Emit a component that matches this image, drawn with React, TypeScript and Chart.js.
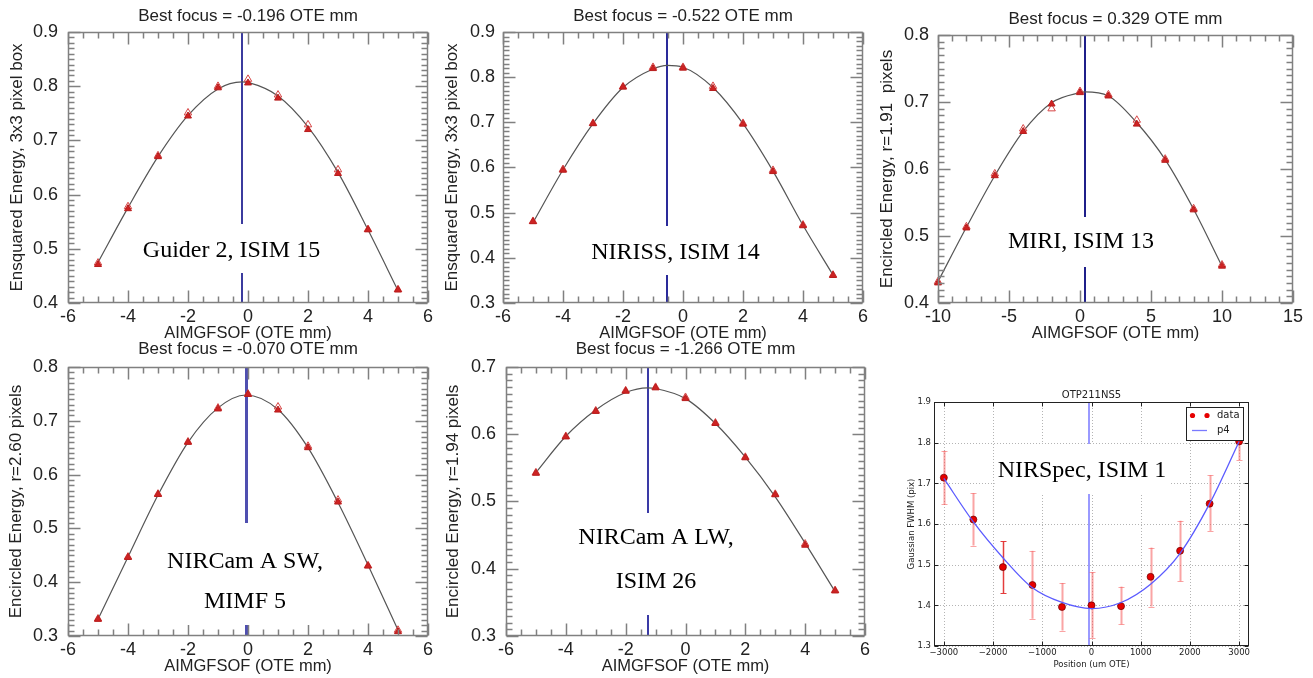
import React, { useEffect, useRef } from 'react';
import { Chart, registerables } from 'chart.js';

Chart.register(...registerables);

const SANS = '"Liberation Sans", Arial, sans-serif';
const SERIF = '"Liberation Serif", "Times New Roman", serif';
const MPL = '"DejaVu Sans", sans-serif';
const TXT = '#222';

// ---------------- data ----------------
const focusX = [-5, -4, -3, -2, -1, 0, 1, 2, 3, 4, 5];
const miriX = [-10, -8, -6, -4, -2, 0, 2, 4, 6, 8, 10];

const focusXTicks = [-6, -4, -2, 0, 2, 4, 6];
const miriXTicks = [-10, -5, 0, 5, 10, 15];
const yTicks4to9 = [0.4, 0.5, 0.6, 0.7, 0.8, 0.9];
const yTicks3to9 = [0.3, 0.4, 0.5, 0.6, 0.7, 0.8, 0.9];
const yTicks4to8 = [0.4, 0.5, 0.6, 0.7, 0.8];
const yTicks3to8 = [0.3, 0.4, 0.5, 0.6, 0.7, 0.8];
const yTicks3to7 = [0.3, 0.4, 0.5, 0.6, 0.7];

// Guider 2, ISIM 15
const guiderFilled = [0.471, 0.574, 0.670, 0.745, 0.797, 0.806, 0.778, 0.720, 0.639, 0.535, 0.424];
const guiderOpen = [0.474, 0.578, 0.672, 0.751, 0.800, 0.813, 0.784, 0.729, 0.646, 0.536, 0.425];
const guiderFitX = [-5, -4, -3, -2, -1, -0.196, 0, 1, 2, 3, 4, 5];
const guiderFitY = [0.475, 0.576, 0.670, 0.746, 0.795, 0.808, 0.807, 0.782, 0.725, 0.641, 0.535, 0.423];
const guiderBest = -0.196;

// NIRISS, ISIM 14
const nirissFilled = [0.480, 0.594, 0.697, 0.778, 0.819, 0.820, 0.775, 0.696, 0.591, 0.471, 0.361];
const nirissOpen = [0.481, 0.596, 0.698, 0.779, 0.822, 0.822, 0.780, 0.698, 0.594, 0.473, 0.362];
const nirissFitX = [-5, -4, -3, -2, -1, -0.522, 0, 1, 2, 3, 4, 5];
const nirissFitY = [0.478, 0.595, 0.697, 0.777, 0.818, 0.826, 0.822, 0.777, 0.697, 0.592, 0.472, 0.362];
const nirissBest = -0.522;

// MIRI, ISIM 13
const miriFilled = [0.430, 0.512, 0.590, 0.656, 0.697, 0.714, 0.709, 0.667, 0.613, 0.539, 0.455];
const miriOpen = [0.432, 0.514, 0.593, 0.660, 0.690, 0.716, 0.711, 0.673, 0.615, 0.541, 0.457];
const miriFitX = [-10, -8, -6, -4, -2, 0, 0.329, 2, 4, 6, 8, 10];
const miriFitY = [0.432, 0.513, 0.590, 0.656, 0.699, 0.714, 0.715, 0.709, 0.669, 0.614, 0.540, 0.455];
const miriBest = 0.329;

// NIRCam A SW, MIMF 5
const swFilled = [0.331, 0.446, 0.563, 0.660, 0.722, 0.749, 0.720, 0.650, 0.549, 0.430, 0.308];
const swOpen = [0.332, 0.447, 0.564, 0.661, 0.724, 0.750, 0.726, 0.653, 0.553, 0.431, 0.311];
const swFitX = [-5, -4, -3, -2, -1, -0.07, 1, 2, 3, 4, 5];
const swFitY = [0.331, 0.447, 0.562, 0.660, 0.724, 0.748, 0.721, 0.650, 0.548, 0.432, 0.311];
const swBest = -0.07;

// NIRCam A LW, ISIM 26
const lwFilled = [0.542, 0.596, 0.634, 0.664, 0.669, 0.653, 0.616, 0.565, 0.510, 0.435, 0.367];
const lwOpen = [0.543, 0.597, 0.635, 0.665, 0.670, 0.655, 0.617, 0.566, 0.511, 0.437, 0.368];
const lwFitX = [-5, -4, -3, -2, -1.266, -1, 0, 1, 2, 3, 4, 5];
const lwFitY = [0.543, 0.597, 0.636, 0.662, 0.669, 0.668, 0.653, 0.616, 0.566, 0.507, 0.438, 0.366];
const lwBest = -1.266;

// NIRSpec, ISIM 1
const nsX = [-3000, -2400, -1800, -1200, -600, 0, 600, 1200, 1800, 2400, 3000];
const nsY = [1.714, 1.611, 1.494, 1.450, 1.396, 1.400, 1.398, 1.470, 1.534, 1.650, 1.803];
const nsErrLow = [1.648, 1.547, 1.430, 1.367, 1.338, 1.320, 1.353, 1.397, 1.459, 1.583, 1.757];
const nsErrHigh = [1.780, 1.676, 1.557, 1.534, 1.455, 1.482, 1.446, 1.542, 1.608, 1.720, 1.850];
const nsFit = [1.712, 1.605, 1.517, 1.443, 1.407, 1.392, 1.407, 1.452, 1.528, 1.650, 1.803];
const nsBest = -60;
const nsXTicks = [-3000, -2000, -1000, 0, 1000, 2000, 3000];
const nsYTicks = [1.3, 1.4, 1.5, 1.6, 1.7, 1.8, 1.9];

// ---------------- panel layout ----------------
type Label = { text: string; cx: number; base: number };
type IdlCfg = {
  id: string;
  box: [number, number, number, number];
  yAxisW: number; xAxisH: number; padRight: number;
  title: string; titlePad: [number, number];
  yTitle: string; yTitlePad: number; xTitlePad: number; yTickPad: number; xTickPad: number;
  xRange: [number, number]; xTicks: number[]; xMinor: number;
  yRange: [number, number]; yTicks: number[]; yMinor: number;
  px: number[]; filled: number[]; open: number[]; fitX: number[]; fitY: number[];
  best: number; lineColor: string; lineW: number;
  labels: Label[]; gap: [number, number];
};

const panels: IdlCfg[] = [
  {
    id: 'guider', box: [0, 0, 440, 345], yAxisW: 68, xAxisH: 42, padRight: 12,
    title: 'Best focus = -0.196 OTE mm', titlePad: [5.8, 5.8],
    yTitle: 'Ensquared Energy, 3x3 pixel box', yTitlePad: 6.8, xTitlePad: 2.1, yTickPad: 10, xTickPad: 3,
    xRange: [-6, 6], xTicks: focusXTicks, xMinor: 4, yRange: [0.4, 0.9], yTicks: yTicks4to9, yMinor: 10,
    px: focusX, filled: guiderFilled, open: guiderOpen, fitX: guiderFitX, fitY: guiderFitY,
    best: guiderBest, lineColor: '#3b3b9e', lineW: 2,
    labels: [{ text: 'Guider 2, ISIM 15', cx: 231.5, base: 257 }], gap: [224, 273],
  },
  {
    id: 'niriss', box: [440, 0, 440, 345], yAxisW: 63, xAxisH: 42, padRight: 17,
    title: 'Best focus = -0.522 OTE mm', titlePad: [5.8, 5.8],
    yTitle: 'Ensquared Energy, 3x3 pixel box', yTitlePad: 1.8, xTitlePad: 2.1, yTickPad: 8, xTickPad: 3,
    xRange: [-6, 6], xTicks: focusXTicks, xMinor: 4, yRange: [0.3, 0.9], yTicks: yTicks3to9, yMinor: 10,
    px: focusX, filled: nirissFilled, open: nirissOpen, fitX: nirissFitX, fitY: nirissFitY,
    best: nirissBest, lineColor: '#2a2a9a', lineW: 2,
    labels: [{ text: 'NIRISS, ISIM 14', cx: 675.5, base: 259 }], gap: [226, 275],
  },
  {
    id: 'miri', box: [870, 0, 443, 345], yAxisW: 68, xAxisH: 42, padRight: 20,
    title: 'Best focus = 0.329 OTE mm', titlePad: [8.8, 5.8],
    yTitle: 'Encircled Energy, r=1.91  pixels', yTitlePad: 7.3, xTitlePad: 2.1, yTickPad: 9, xTickPad: 3,
    xRange: [-10, 15], xTicks: miriXTicks, xMinor: 5, yRange: [0.4, 0.8], yTicks: yTicks4to8, yMinor: 10,
    px: miriX, filled: miriFilled, open: miriOpen, fitX: miriFitX, fitY: miriFitY,
    best: miriBest, lineColor: '#1f1f8a', lineW: 2,
    labels: [{ text: 'MIRI, ISIM 13', cx: 1081, base: 248 }], gap: [217, 267],
  },
  {
    id: 'sw', box: [0, 330, 440, 348], yAxisW: 68, xAxisH: 42, padRight: 12,
    title: 'Best focus = -0.070 OTE mm', titlePad: [8.8, 7.8],
    yTitle: 'Encircled Energy, r=2.60 pixels', yTitlePad: 5.8, xTitlePad: 2.1, yTickPad: 10, xTickPad: 3,
    xRange: [-6, 6], xTicks: focusXTicks, xMinor: 4, yRange: [0.3, 0.8], yTicks: yTicks3to8, yMinor: 10,
    px: focusX, filled: swFilled, open: swOpen, fitX: swFitX, fitY: swFitY,
    best: swBest, lineColor: '#4f4fb0', lineW: 3,
    labels: [
      { text: 'NIRCam A SW,', cx: 245, base: 568 },
      { text: 'MIMF 5', cx: 245, base: 608 },
    ], gap: [523, 625],
  },
  {
    id: 'lw', box: [440, 330, 440, 348], yAxisW: 66, xAxisH: 42, padRight: 15,
    title: 'Best focus = -1.266 OTE mm', titlePad: [8.8, 7.8],
    yTitle: 'Encircled Energy, r=1.94 pixels', yTitlePad: 2.8, xTitlePad: 2.1, yTickPad: 10, xTickPad: 3,
    xRange: [-6, 6], xTicks: focusXTicks, xMinor: 4, yRange: [0.3, 0.7], yTicks: yTicks3to7, yMinor: 10,
    px: focusX, filled: lwFilled, open: lwOpen, fitX: lwFitX, fitY: lwFitY,
    best: lwBest, lineColor: '#3a3aa6', lineW: 2,
    labels: [
      { text: 'NIRCam A LW,', cx: 656, base: 544 },
      { text: 'ISIM 26', cx: 656, base: 588 },
    ], gap: [513, 615],
  },
];

function drawLabelBox(ctx: CanvasRenderingContext2D, labels: Label[], gap: [number, number], ox: number, oy: number) {
  ctx.save();
  ctx.font = `24px ${SERIF}`;
  const maxW = Math.max(...labels.map((l) => ctx.measureText(l.text).width));
  const cx = labels[0].cx - ox;
  ctx.fillStyle = '#ffffff';
  ctx.fillRect(cx - maxW / 2 - 3, gap[0] - oy, maxW + 6, gap[1] - gap[0]);
  ctx.fillStyle = '#000';
  ctx.textAlign = 'center';
  ctx.textBaseline = 'alphabetic';
  labels.forEach((l) => ctx.fillText(l.text, l.cx - ox, l.base - oy));
  ctx.restore();
}

function IdlChart({ c }: { c: IdlCfg }) {
  const ref = useRef<HTMLCanvasElement>(null);
  useEffect(() => {
    const [bl, bt] = c.box;
    const decor = {
      id: 'decor_' + c.id,
      beforeDatasetsDraw(chart: any) {
        const { ctx, chartArea: a, scales } = chart;
        const p = Math.round(scales.x.getPixelForValue(c.best)) + (c.lineW % 2 ? 0.5 : 0);
        ctx.save();
        ctx.strokeStyle = c.lineColor;
        ctx.lineWidth = c.lineW;
        ctx.beginPath();
        ctx.moveTo(p, a.top);
        ctx.lineTo(p, a.bottom);
        ctx.stroke();
        ctx.restore();
      },
      afterDatasetsDraw(chart: any) {
        const { ctx, chartArea: a, scales } = chart;
        const xs = scales.x, ys = scales.y;
        ctx.save();
        ctx.strokeStyle = '#808080';
        ctx.lineWidth = 1.5;
        const L = Math.round(a.left) + 0.5, R = Math.round(a.right) - 0.5;
        const T = Math.round(a.top) + 0.5, B = Math.round(a.bottom) - 0.5;
        ctx.strokeRect(L, T, R - L, B - T);
        const xStep = (c.xTicks[1] - c.xTicks[0]) / c.xMinor;
        const nx = Math.round((c.xRange[1] - c.xRange[0]) / xStep);
        for (let i = 0; i <= nx; i++) {
          const v = c.xRange[0] + i * xStep;
          const len = i % c.xMinor === 0 ? 12 : 6;
          const p = Math.round(xs.getPixelForValue(v)) + 0.5;
          ctx.beginPath();
          ctx.moveTo(p, B); ctx.lineTo(p, B - len);
          ctx.moveTo(p, T); ctx.lineTo(p, T + len);
          ctx.stroke();
        }
        const yStep = (c.yTicks[1] - c.yTicks[0]) / c.yMinor;
        const ny = Math.round((c.yRange[1] - c.yRange[0]) / yStep);
        for (let i = 0; i <= ny; i++) {
          const v = c.yRange[0] + i * yStep;
          const len = i % c.yMinor === 0 ? 12 : 6;
          const p = Math.round(ys.getPixelForValue(v)) + 0.5;
          ctx.beginPath();
          ctx.moveTo(L, p); ctx.lineTo(L + len, p);
          ctx.moveTo(R, p); ctx.lineTo(R - len, p);
          ctx.stroke();
        }
        ctx.restore();
        drawLabelBox(ctx, c.labels, c.gap, bl, bt);
      },
    };
    const chart = new Chart(ref.current as HTMLCanvasElement, {
      type: 'scatter',
      data: {
        datasets: [
          {
            label: 'filled',
            data: c.px.map((x, i) => ({ x, y: c.filled[i] })),
            pointStyle: 'triangle', pointRadius: 4, backgroundColor: '#cf2222',
            borderColor: '#b81c1c', borderWidth: 1, showLine: false, clip: false,
          } as any,
          {
            label: 'open',
            data: c.px.map((x, i) => ({ x, y: c.open[i] })),
            pointStyle: 'triangle', pointRadius: 4.3, backgroundColor: 'rgba(0,0,0,0)',
            borderColor: '#d64545', borderWidth: 1, showLine: false, clip: false,
          } as any,
          {
            label: 'fit',
            data: c.fitX.map((x, i) => ({ x, y: c.fitY[i] })),
            showLine: true, pointRadius: 0, borderColor: '#555', borderWidth: 1.2,
            cubicInterpolationMode: 'monotone', fill: false,
          } as any,
        ],
      },
      options: {
        responsive: false, animation: false, events: [], devicePixelRatio: 1,
        layout: { padding: { left: 0, top: 0, right: c.padRight, bottom: 0 } },
        plugins: {
          legend: { display: false },
          tooltip: { enabled: false },
          title: {
            display: true, text: c.title, fullSize: false, color: TXT,
            font: { family: SANS, size: 17, weight: 'normal' },
            padding: { top: c.titlePad[0], bottom: c.titlePad[1] },
          },
        },
        scales: {
          x: {
            type: 'linear', min: c.xRange[0], max: c.xRange[1],
            afterBuildTicks: (s: any) => { s.ticks = c.xTicks.map((v) => ({ value: v })); },
            afterFit: (s: any) => { s.height = c.xAxisH; },
            grid: { display: false, drawTicks: false }, border: { display: false },
            ticks: {
              padding: c.xTickPad, color: TXT, font: { family: SANS, size: 18 },
              maxRotation: 0, autoSkip: false, callback: (v: any) => String(v),
            },
            title: {
              display: true, text: 'AIMGFSOF (OTE mm)', color: TXT,
              font: { family: SANS, size: 16.5 }, padding: { top: 0, bottom: c.xTitlePad },
            },
          },
          y: {
            type: 'linear', min: c.yRange[0], max: c.yRange[1],
            afterBuildTicks: (s: any) => { s.ticks = c.yTicks.map((v) => ({ value: v })); },
            afterFit: (s: any) => { s.width = c.yAxisW; },
            grid: { display: false, drawTicks: false }, border: { display: false },
            ticks: {
              padding: c.yTickPad, color: TXT, font: { family: SANS, size: 18 },
              autoSkip: false, callback: (v: any) => Number(v).toFixed(1),
            },
            title: {
              display: true, text: c.yTitle, color: TXT,
              font: { family: SANS, size: 17 }, padding: { top: c.yTitlePad, bottom: 0 },
            },
          },
        },
      } as any,
      plugins: [decor],
    });
    return () => chart.destroy();
  }, [c]);
  const [bl, bt, bw, bh] = c.box;
  return (
    <canvas
      ref={ref}
      width={bw}
      height={bh}
      style={{ position: 'absolute', left: bl, top: bt, width: bw, height: bh }}
    />
  );
}

const nsBox: [number, number, number, number] = [880, 380, 433, 298];
const nsLabels: Label[] = [{ text: 'NIRSpec, ISIM 1', cx: 1082, base: 477 }];
const nsGap: [number, number] = [444, 494];

function NirspecChart() {
  const ref = useRef<HTMLCanvasElement>(null);
  useEffect(() => {
    const [bl, bt] = nsBox;
    const fmtX = (v: number) => (v < 0 ? '\u2212' + Math.abs(v) : String(v));
    const decor = {
      id: 'decor_ns',
      beforeDatasetsDraw(chart: any) {
        const { ctx, chartArea: a, scales } = chart;
        const xs = scales.x, ys = scales.y;
        ctx.save();
        ctx.strokeStyle = '#b4b4b4';
        ctx.lineWidth = 1;
        ctx.setLineDash([1, 2]);
        ctx.beginPath();
        nsXTicks.forEach((v) => {
          const p = Math.round(xs.getPixelForValue(v)) + 0.5;
          ctx.moveTo(p, a.top); ctx.lineTo(p, a.bottom);
        });
        nsYTicks.forEach((v) => {
          const p = Math.round(ys.getPixelForValue(v)) + 0.5;
          ctx.moveTo(a.left, p); ctx.lineTo(a.right, p);
        });
        ctx.stroke();
        ctx.setLineDash([]);
        const bp = Math.round(xs.getPixelForValue(nsBest));
        ctx.strokeStyle = '#9a9aff';
        ctx.lineWidth = 2;
        ctx.beginPath();
        ctx.moveTo(bp, a.top); ctx.lineTo(bp, a.bottom);
        ctx.stroke();
        nsX.forEach((xv, i) => {
          const p = Math.round(xs.getPixelForValue(xv)) + 0.5;
          const y1 = ys.getPixelForValue(nsErrLow[i]);
          const y2 = ys.getPixelForValue(nsErrHigh[i]);
          ctx.strokeStyle = i === 2 ? 'rgba(225,40,40,0.9)' : 'rgba(245,90,90,0.55)';
          ctx.lineWidth = i === 2 ? 1.5 : 2;
          ctx.beginPath();
          ctx.moveTo(p, y1); ctx.lineTo(p, y2);
          ctx.stroke();
          ctx.lineWidth = 1;
          ctx.beginPath();
          ctx.moveTo(p - 3, Math.round(y1) + 0.5); ctx.lineTo(p + 3, Math.round(y1) + 0.5);
          ctx.moveTo(p - 3, Math.round(y2) + 0.5); ctx.lineTo(p + 3, Math.round(y2) + 0.5);
          ctx.stroke();
        });
        ctx.restore();
      },
      afterDatasetsDraw(chart: any) {
        const { ctx, chartArea: a, scales } = chart;
        const xs = scales.x, ys = scales.y;
        ctx.save();
        ctx.strokeStyle = '#222';
        ctx.lineWidth = 1;
        const L = Math.round(a.left) + 0.5, R = Math.round(a.right) - 0.5;
        const T = Math.round(a.top) + 0.5, B = Math.round(a.bottom) - 0.5;
        ctx.strokeRect(L, T, R - L, B - T);
        nsXTicks.forEach((v) => {
          const p = Math.round(xs.getPixelForValue(v)) + 0.5;
          ctx.beginPath();
          ctx.moveTo(p, B); ctx.lineTo(p, B - 4);
          ctx.moveTo(p, T); ctx.lineTo(p, T + 4);
          ctx.stroke();
        });
        nsYTicks.forEach((v) => {
          const p = Math.round(ys.getPixelForValue(v)) + 0.5;
          ctx.beginPath();
          ctx.moveTo(L, p); ctx.lineTo(L + 4, p);
          ctx.moveTo(R, p); ctx.lineTo(R - 4, p);
          ctx.stroke();
        });
        ctx.restore();
        drawLabelBox(ctx, nsLabels, nsGap, bl, bt);
        ctx.save();
        const lx = a.right - 63, ly = a.top + 5, lw = 57, lh = 33;
        ctx.fillStyle = '#fff';
        ctx.fillRect(lx, ly, lw, lh);
        ctx.strokeStyle = '#222';
        ctx.lineWidth = 1;
        ctx.strokeRect(Math.round(lx) + 0.5, Math.round(ly) + 0.5, lw, lh);
        const ds = chart.data.datasets;
        const r1 = ly + 8.5, r2 = ly + 23.5;
        ctx.fillStyle = '#e60000';
        [lx + 6.5, lx + 21].forEach((dx) => {
          ctx.beginPath(); ctx.arc(dx, r1, 2.6, 0, Math.PI * 2); ctx.fill();
        });
        ctx.strokeStyle = '#7a7aff';
        ctx.lineWidth = 1.3;
        ctx.beginPath(); ctx.moveTo(lx + 6, r2); ctx.lineTo(lx + 21, r2); ctx.stroke();
        ctx.fillStyle = '#222';
        ctx.font = `10px ${MPL}`;
        ctx.textAlign = 'left';
        ctx.textBaseline = 'middle';
        ctx.fillText(ds[1].label, lx + 31, r1);
        ctx.fillText(ds[0].label, lx + 31, r2);
        ctx.restore();
      },
    };
    const chart = new Chart(ref.current as HTMLCanvasElement, {
      type: 'scatter',
      data: {
        datasets: [
          {
            label: 'p4',
            data: nsX.map((x, i) => ({ x, y: nsFit[i] })),
            showLine: true, pointRadius: 0, borderColor: '#5b5bff', borderWidth: 1.3,
            cubicInterpolationMode: 'monotone', fill: false,
          } as any,
          {
            label: 'data',
            data: nsX.map((x, i) => ({ x, y: nsY[i] })),
            pointRadius: 3.5, backgroundColor: '#e60000', borderColor: '#6a0000',
            borderWidth: 0.7, showLine: false, clip: false,
          } as any,
        ],
      },
      options: {
        responsive: false, animation: false, events: [], devicePixelRatio: 1,
        layout: { padding: { left: 0, top: 0, right: 64, bottom: 0 } },
        plugins: {
          legend: { display: false },
          tooltip: { enabled: false },
          title: {
            display: true, text: 'OTP211NS5', fullSize: false, color: TXT,
            font: { family: MPL, size: 10, weight: 'normal' },
            padding: { top: 9.7, bottom: 0.3 },
          },
        },
        scales: {
          x: {
            type: 'linear', min: -3200, max: 3200,
            afterBuildTicks: (s: any) => { s.ticks = nsXTicks.map((v) => ({ value: v })); },
            afterFit: (s: any) => { s.height = 32; },
            grid: { display: false, drawTicks: false }, border: { display: false },
            ticks: {
              padding: 2, color: TXT, font: { family: MPL, size: 8.5 },
              maxRotation: 0, autoSkip: false, callback: (v: any) => fmtX(Number(v)),
            },
            title: {
              display: true, text: 'Position (um OTE)', color: TXT,
              font: { family: MPL, size: 8.5 }, padding: { top: 0, bottom: 7.9 },
            },
          },
          y: {
            type: 'linear', min: 1.3, max: 1.9,
            afterBuildTicks: (s: any) => { s.ticks = nsYTicks.map((v) => ({ value: v })); },
            afterFit: (s: any) => { s.width = 54; },
            grid: { display: false, drawTicks: false }, border: { display: false },
            ticks: {
              padding: 3, color: TXT, font: { family: MPL, size: 8.5 },
              autoSkip: false, callback: (v: any) => Number(v).toFixed(1),
            },
            title: {
              display: true, text: 'Gaussian FWHM (pix)', color: TXT,
              font: { family: MPL, size: 8.5 }, padding: { top: 26.4, bottom: 0 },
            },
          },
        },
      } as any,
      plugins: [decor],
    });
    return () => chart.destroy();
  }, []);
  const [bl, bt, bw, bh] = nsBox;
  return (
    <canvas
      ref={ref}
      width={bw}
      height={bh}
      style={{ position: 'absolute', left: bl, top: bt, width: bw, height: bh }}
    />
  );
}

export default function App() {
  return (
    <div
      style={{
        position: 'absolute', left: 0, top: 0, width: 1313, height: 678,
        background: '#ffffff', overflow: 'hidden',
      }}
    >
      {panels.map((p) => (
        <IdlChart key={p.id} c={p} />
      ))}
      <NirspecChart />
    </div>
  );
}
